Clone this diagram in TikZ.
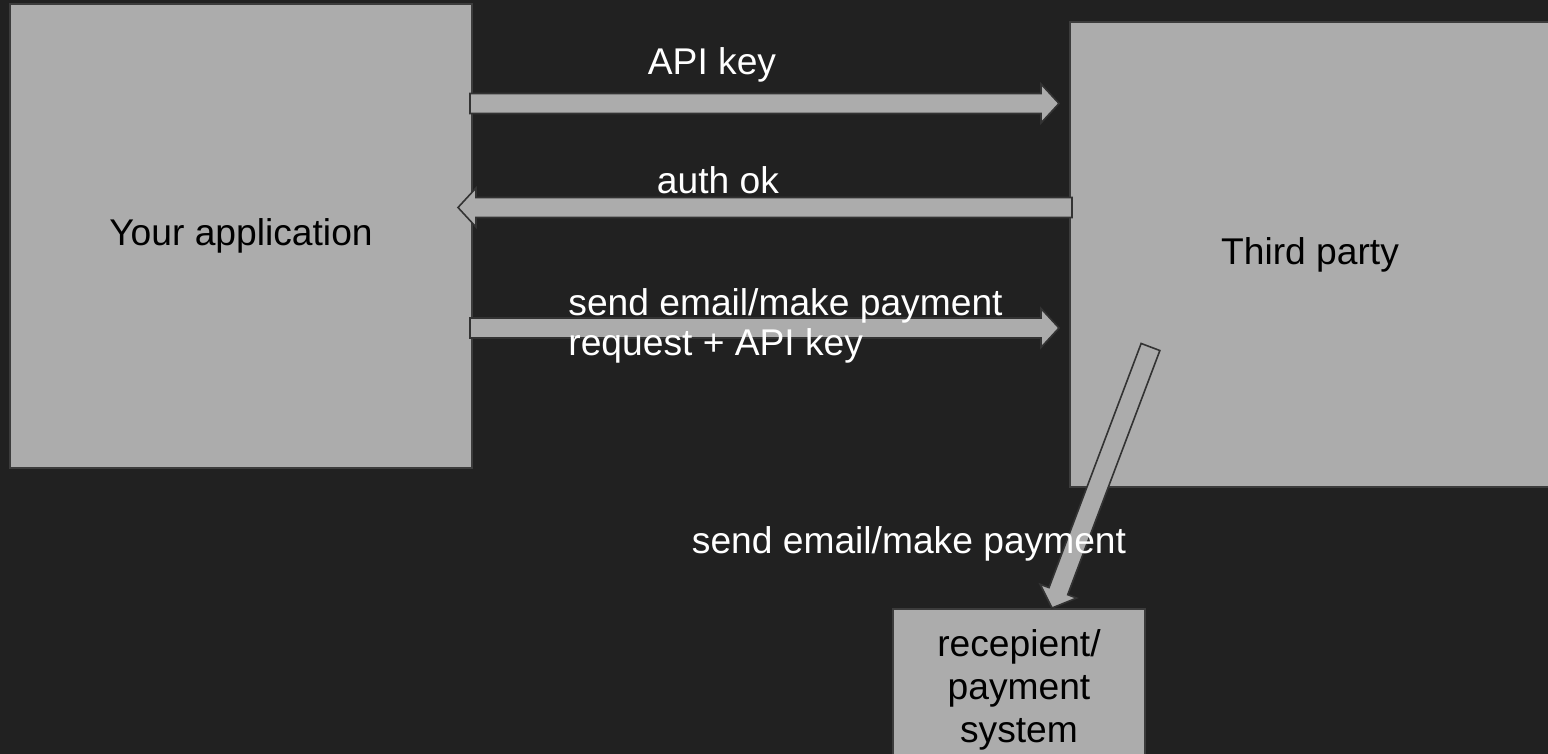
\documentclass[tikz,border=0pt]{standalone}
\usepackage{fontspec}
\setmainfont{Liberation Sans}
\usetikzlibrary{calc}
\definecolor{bg}{HTML}{212121}
\definecolor{boxgray}{HTML}{ACACAC}
\definecolor{edgegray}{HTML}{3C3C3C}
\definecolor{arrowedge}{HTML}{333333}
% #1 start (tail centre), #2 tip, #3 name prefix
\newcommand\blockarrow[3]{%
  \coordinate (#3-hb) at ($(#2)!9pt!(#1)$);
  \draw[barrow] ($(#1)!5pt!90:(#2)$) -- ($(#3-hb)!5pt!90:(#2)$) -- ($(#3-hb)!9.75pt!90:(#2)$)
    -- (#2) -- ($(#3-hb)!9.75pt!-90:(#2)$) -- ($(#3-hb)!5pt!-90:(#2)$) -- ($(#1)!5pt!-90:(#2)$) -- cycle;}
\tikzset{
  box/.style={draw=edgegray, line width=1pt, fill=boxgray, inner sep=0pt, align=center,
    font=\fontsize{18.6}{21.5}\selectfont, text=black},
  barrow/.style={draw=arrowedge, line width=0.8pt, fill=boxgray, line join=miter},
  lbl/.style={text=white, inner sep=0pt, font=\fontsize{18.6}{20.5}\selectfont},
}
\begin{document}
\begin{tikzpicture}[x=0.5pt, y=-0.5pt]
  \fill[bg] (0,0) rectangle (1548,754);
  \useasboundingbox (0,0) rectangle (1548,754);
  \clip (0,0) rectangle (1548,754);
  % boxes
  \node[box, minimum width=231pt, minimum height=232pt] (app) at (241,236) {Your application};
  \node[box, minimum width=240pt, minimum height=232.5pt] (third) at (1310,254.5) {Third party};
  \node[box, minimum width=126pt, minimum height=80.5pt] (recv) at (1019,689.5) {recepient/\\payment\\system};
  % arrow end points
  \coordinate (a1s) at ([xshift=-1.5pt]app.east |- 0,103.5);
  \coordinate (a1e) at ([xshift=-5pt]third.west |- 0,103.5);
  \coordinate (a2s) at ([xshift=1.5pt]third.west |- 0,207.5);
  \coordinate (a2e) at ([xshift=-7.5pt]app.east |- 0,207.5);
  \coordinate (a3s) at ([xshift=-1.5pt]app.east |- 0,328);
  \coordinate (a3e) at ([xshift=-5pt]third.west |- 0,328);
  \coordinate (a4s) at (1150.5,347);
  \coordinate (a4e) at (recv.north -| 1052,0);
  % arrows
  \blockarrow{a1s}{a1e}{ar1}
  \blockarrow{a2s}{a2e}{ar2}
  \blockarrow{a3s}{a3e}{ar3}
  \blockarrow{a4s}{a4e}{ar4}
  % labels
  \node[lbl, anchor=base] (l1) at (712,75) {API key};
  \node[lbl, anchor=base] (l2) at (718,194) {auth ok};
  \node[lbl, anchor=base west, align=left] (l3) at (568,356) {send email/make payment\\request + API key};
  \node[lbl, anchor=base] (l4) at (909,553) {send email/make payment};
\end{tikzpicture}
\end{document}
